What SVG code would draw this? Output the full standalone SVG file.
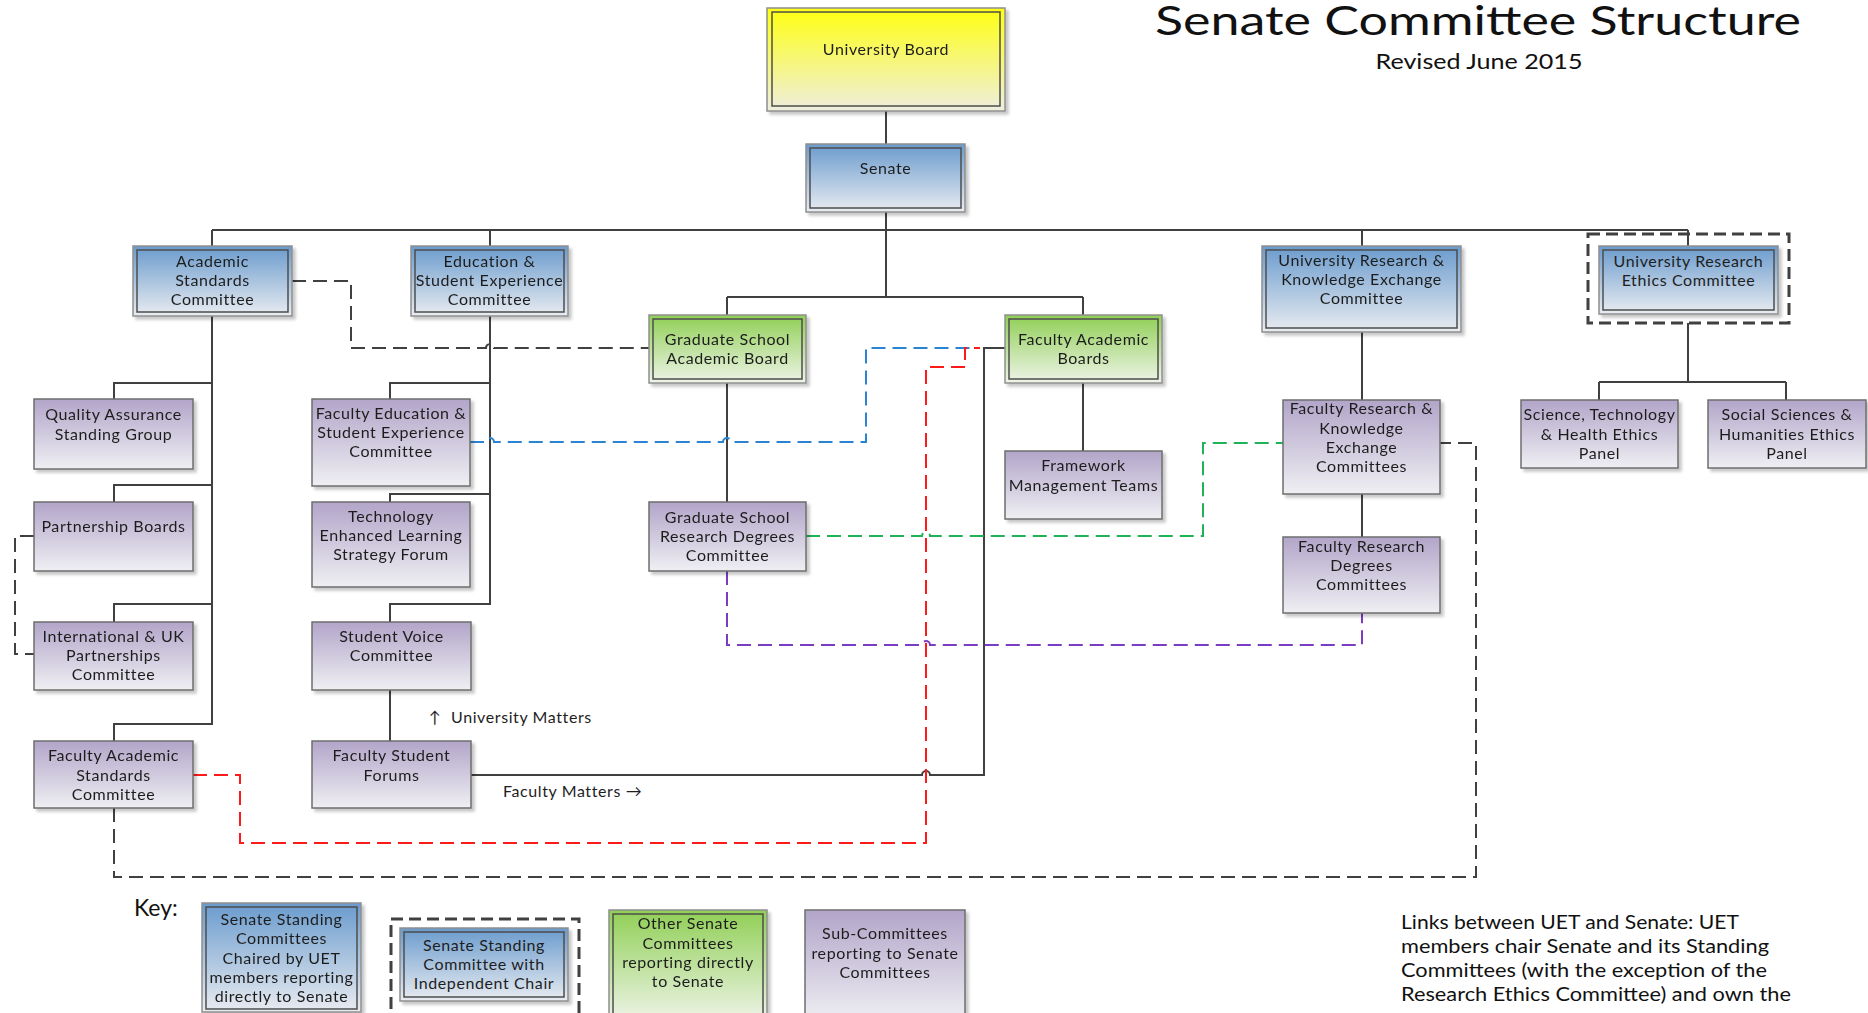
<svg xmlns="http://www.w3.org/2000/svg" width="1868" height="1013" viewBox="0 0 1868 1013">
<defs>
<linearGradient id="gBlue" x1="0" y1="0" x2="0" y2="1"><stop offset="0" stop-color="#6a9bcd"/><stop offset="1" stop-color="#e9ecf1"/></linearGradient>
<linearGradient id="gGreen" x1="0" y1="0" x2="0" y2="1"><stop offset="0" stop-color="#90cf55"/><stop offset="1" stop-color="#eef4e8"/></linearGradient>
<linearGradient id="gYellow" x1="0" y1="0" x2="0" y2="1"><stop offset="0" stop-color="#ffff10"/><stop offset="1" stop-color="#eeeedf"/></linearGradient>
<linearGradient id="gPurple" x1="0" y1="0" x2="0" y2="1"><stop offset="0" stop-color="#b2a5c9"/><stop offset="1" stop-color="#efeff3"/></linearGradient>
<filter id="sh" x="-10%" y="-10%" width="125%" height="130%"><feDropShadow dx="3" dy="3" stdDeviation="1.5" flood-color="#000" flood-opacity="0.22"/></filter>
</defs>
<style>
.t{font-family:Lato,"Liberation Sans",sans-serif;font-size:16px;letter-spacing:0.6px;fill:#1e1e1e;text-anchor:middle}
.outer{stroke:#8f8f8f;stroke-width:1.5}
.inner{fill:none;stroke:#4d4d4d;stroke-width:1.5}
.single{stroke:#6e6e6e;stroke-width:1.5}
.blue{fill:url(#gBlue)}
.green{fill:url(#gGreen)}
.yellow{fill:url(#gYellow)}
.purple{fill:url(#gPurple)}
.frame{fill:none;stroke:#404040;stroke-width:3;stroke-dasharray:12,6}
.c{fill:none;stroke:#404040;stroke-width:2}
.d{fill:none;stroke-width:2;stroke-dasharray:14,7}
.dk{stroke:#404040}
.bl{stroke:#2a84d2}
.rd{stroke:#ff1a1a}
.gr{stroke:#1fb257}
.pu{stroke:#7a3cc0}
.lbl{font-family:Lato,"Liberation Sans",sans-serif;font-size:16px;letter-spacing:0.6px;fill:#1e1e1e}
.para{font-family:Lato,"Liberation Sans",sans-serif;font-size:19.5px;fill:#111}
</style>

<g id="title">
<text x="1478" y="35" textLength="646" lengthAdjust="spacingAndGlyphs" style="font-family:Lato,'Liberation Sans',sans-serif;font-size:40px;fill:#111;text-anchor:middle">Senate Committee Structure</text>
<text x="1479" y="69" textLength="207" lengthAdjust="spacingAndGlyphs" style="font-family:Lato,'Liberation Sans',sans-serif;font-size:21px;fill:#111;text-anchor:middle">Revised June 2015</text>
</g>

<g id="connectors">
<path class="c" d="M886,111V144M886,212V297M212,230H1688M212,230V246M490,230V246M1362,230V246M1688,230V246"/>
<path class="c" d="M727,297H1083M727,297V315M1083,297V315"/>
<path class="c" d="M212,316V724H114V741M212,383H114V399M212,485H114V502M212,604H114V622"/>
<path class="c" d="M490,316V604H390V622M490,383H390V399M490,494H390V502M390,690V741"/>
<path class="c" d="M727,383V502M1083,383V451"/>
<path class="c" d="M471,775H922A4,4 0 0 1 930,775H984V348H1005"/>
<path class="c" d="M1362,332V400M1362,494V537"/>
<path class="c" d="M1688,323V382M1599,382H1786M1599,382V400M1786,382V400"/>
<path class="d dk" d="M292,281H351V348H486A4,4 0 0 1 494,348H649"/>
<path class="d dk" d="M34,536H15V654H34"/>
<path class="d dk" d="M114,808V877H1476V443H1440"/>
<path class="d bl" d="M470,442H486A4,4 0 0 1 494,442H723A4,4 0 0 1 731,442H866V348H980"/>
<path class="d rd" d="M193,775H240V843H926V367H965V348H980"/>
<path class="d gr" d="M806,536H922A4,4 0 0 1 930,536H1203V443H1283"/>
<path class="d pu" d="M727,571V645H922A4,4 0 0 1 930,645H1362V613"/>
</g>

<g id="university-board" filter="url(#sh)">
<rect class="outer yellow" x="767" y="8" width="238" height="103"/>
<rect class="inner" x="772" y="12" width="228" height="94"/>
<text class="t" x="886" y="55">University Board</text>
</g>
<g id="senate" filter="url(#sh)">
<rect class="outer blue" x="806" y="144" width="159" height="68"/>
<rect class="inner" x="810" y="148" width="151" height="60"/>
<text class="t" x="885.5" y="174">Senate</text>
</g>
<g id="academic-standards" filter="url(#sh)">
<rect class="outer blue" x="133" y="246" width="159" height="70"/>
<rect class="inner" x="137" y="250" width="151" height="62"/>
<text class="t" x="212.5" y="267">Academic</text>
<text class="t" x="212.5" y="286">Standards</text>
<text class="t" x="212.5" y="305">Committee</text>
</g>
<g id="education-student-experience" filter="url(#sh)">
<rect class="outer blue" x="411" y="246" width="157" height="70"/>
<rect class="inner" x="415" y="250" width="149" height="62"/>
<text class="t" x="489.5" y="267">Education &amp;</text>
<text class="t" x="489.5" y="286">Student Experience</text>
<text class="t" x="489.5" y="305">Committee</text>
</g>
<g id="urke" filter="url(#sh)">
<rect class="outer blue" x="1262" y="246" width="199" height="86"/>
<rect class="inner" x="1266" y="250" width="191" height="78"/>
<text class="t" x="1361.5" y="266">University Research &amp;</text>
<text class="t" x="1361.5" y="285">Knowledge Exchange</text>
<text class="t" x="1361.5" y="304">Committee</text>
</g>
<g id="ure">
<rect class="frame" x="1588" y="234" width="201" height="89"/>
<g filter="url(#sh)">
<rect class="outer blue" x="1599" y="246" width="179" height="68"/>
<rect class="inner" x="1603" y="250" width="171" height="60"/>
</g>
<text class="t" x="1688.5" y="267">University Research</text>
<text class="t" x="1688.5" y="286">Ethics Committee</text>
</g>
<g id="gsab" filter="url(#sh)">
<rect class="outer green" x="649" y="315" width="157" height="68"/>
<rect class="inner" x="653" y="319" width="149" height="60"/>
<text class="t" x="727.5" y="345">Graduate School</text>
<text class="t" x="727.5" y="364">Academic Board</text>
</g>
<g id="fab" filter="url(#sh)">
<rect class="outer green" x="1005" y="315" width="157" height="68"/>
<rect class="inner" x="1009" y="319" width="149" height="60"/>
<text class="t" x="1083.5" y="345">Faculty Academic</text>
<text class="t" x="1083.5" y="364">Boards</text>
</g>

<g id="qasg" filter="url(#sh)">
<rect class="single purple" x="34" y="399" width="159" height="70"/>
<text class="t" x="113.5" y="420">Quality Assurance</text>
<text class="t" x="113.5" y="440">Standing Group</text>
</g>
<g id="partnership-boards" filter="url(#sh)">
<rect class="single purple" x="34" y="502" width="159" height="69"/>
<text class="t" x="113.5" y="532">Partnership Boards</text>
</g>
<g id="intl-uk" filter="url(#sh)">
<rect class="single purple" x="34" y="622" width="159" height="68"/>
<text class="t" x="113.5" y="642">International &amp; UK</text>
<text class="t" x="113.5" y="661">Partnerships</text>
<text class="t" x="113.5" y="680">Committee</text>
</g>
<g id="fasc" filter="url(#sh)">
<rect class="single purple" x="34" y="741" width="159" height="67"/>
<text class="t" x="113.5" y="761">Faculty Academic</text>
<text class="t" x="113.5" y="781">Standards</text>
<text class="t" x="113.5" y="800">Committee</text>
</g>
<g id="fese" filter="url(#sh)">
<rect class="single purple" x="312" y="399" width="158" height="87"/>
<text class="t" x="391" y="419">Faculty Education &amp;</text>
<text class="t" x="391" y="438">Student Experience</text>
<text class="t" x="391" y="457">Committee</text>
</g>
<g id="tel" filter="url(#sh)">
<rect class="single purple" x="312" y="502" width="158" height="85"/>
<text class="t" x="391" y="522">Technology</text>
<text class="t" x="391" y="541">Enhanced Learning</text>
<text class="t" x="391" y="560">Strategy Forum</text>
</g>
<g id="svc" filter="url(#sh)">
<rect class="single purple" x="312" y="622" width="159" height="68"/>
<text class="t" x="391.5" y="642">Student Voice</text>
<text class="t" x="391.5" y="661">Committee</text>
</g>
<g id="fsf" filter="url(#sh)">
<rect class="single purple" x="312" y="741" width="159" height="67"/>
<text class="t" x="391.5" y="761">Faculty Student</text>
<text class="t" x="391.5" y="781">Forums</text>
</g>
<g id="gsrdc" filter="url(#sh)">
<rect class="single purple" x="649" y="502" width="157" height="69"/>
<text class="t" x="727.5" y="523">Graduate School</text>
<text class="t" x="727.5" y="542">Research Degrees</text>
<text class="t" x="727.5" y="561">Committee</text>
</g>
<g id="fmt" filter="url(#sh)">
<rect class="single purple" x="1005" y="451" width="157" height="68"/>
<text class="t" x="1083.5" y="471">Framework</text>
<text class="t" x="1083.5" y="491">Management Teams</text>
</g>
<g id="frke" filter="url(#sh)">
<rect class="single purple" x="1283" y="400" width="157" height="94"/>
<text class="t" x="1361.5" y="414">Faculty Research &amp;</text>
<text class="t" x="1361.5" y="434">Knowledge</text>
<text class="t" x="1361.5" y="453">Exchange</text>
<text class="t" x="1361.5" y="472">Committees</text>
</g>
<g id="frdc" filter="url(#sh)">
<rect class="single purple" x="1283" y="537" width="157" height="76"/>
<text class="t" x="1361.5" y="552">Faculty Research</text>
<text class="t" x="1361.5" y="571">Degrees</text>
<text class="t" x="1361.5" y="590">Committees</text>
</g>
<g id="sth" filter="url(#sh)">
<rect class="single purple" x="1521" y="400" width="157" height="68"/>
<text class="t" x="1599.5" y="420">Science, Technology</text>
<text class="t" x="1599.5" y="440">&amp; Health Ethics</text>
<text class="t" x="1599.5" y="459">Panel</text>
</g>
<g id="ssh" filter="url(#sh)">
<rect class="single purple" x="1708" y="400" width="158" height="68"/>
<text class="t" x="1787" y="420">Social Sciences &amp;</text>
<text class="t" x="1787" y="440">Humanities Ethics</text>
<text class="t" x="1787" y="459">Panel</text>
</g>

<g id="flow-labels">
<text class="lbl" x="429" y="723">↑</text>
<text class="lbl" x="451" y="723">University Matters</text>
<text class="lbl" x="503" y="797">Faculty Matters →</text>
</g>

<g id="key">
<text x="134" y="916" style="font-family:Lato,'Liberation Sans',sans-serif;font-size:23px;fill:#111">Key:</text>
<g id="key-standing" filter="url(#sh)">
<rect class="outer blue" x="202" y="903" width="159" height="109"/>
<rect class="inner" x="206" y="907" width="151" height="102"/>
<text class="t" x="281.5" y="925">Senate Standing</text>
<text class="t" x="281.5" y="944">Committees</text>
<text class="t" x="281.5" y="964">Chaired by UET</text>
<text class="t" x="281.5" y="983">members reporting</text>
<text class="t" x="281.5" y="1002">directly to Senate</text>
</g>
<g id="key-independent">
<rect class="frame" x="391" y="919" width="188" height="100"/>
<g filter="url(#sh)">
<rect class="outer blue" x="400" y="928" width="168" height="73"/>
<rect class="inner" x="404" y="932" width="160" height="65"/>
</g>
<text class="t" x="484" y="951">Senate Standing</text>
<text class="t" x="484" y="970">Committee with</text>
<text class="t" x="484" y="989">Independent Chair</text>
</g>
<g id="key-other" filter="url(#sh)">
<rect class="outer green" x="609" y="910" width="158" height="112"/>
<rect class="inner" x="613" y="914" width="150" height="104"/>
<text class="t" x="688" y="929">Other Senate</text>
<text class="t" x="688" y="949">Committees</text>
<text class="t" x="688" y="968">reporting directly</text>
<text class="t" x="688" y="987">to Senate</text>
</g>
<g id="key-sub" filter="url(#sh)">
<rect class="single purple" x="805" y="910" width="160" height="112"/>
<text class="t" x="885" y="939">Sub-Committees</text>
<text class="t" x="885" y="959">reporting to Senate</text>
<text class="t" x="885" y="978">Committees</text>
</g>
</g>

<g id="note">
<text class="para" x="1401" y="929" textLength="338" lengthAdjust="spacingAndGlyphs">Links between UET and Senate: UET</text>
<text class="para" x="1401" y="953" textLength="368" lengthAdjust="spacingAndGlyphs">members chair Senate and its Standing</text>
<text class="para" x="1401" y="977" textLength="366" lengthAdjust="spacingAndGlyphs">Committees (with the exception of the</text>
<text class="para" x="1401" y="1001" textLength="390" lengthAdjust="spacingAndGlyphs">Research Ethics Committee) and own the</text>
</g>
</svg>
